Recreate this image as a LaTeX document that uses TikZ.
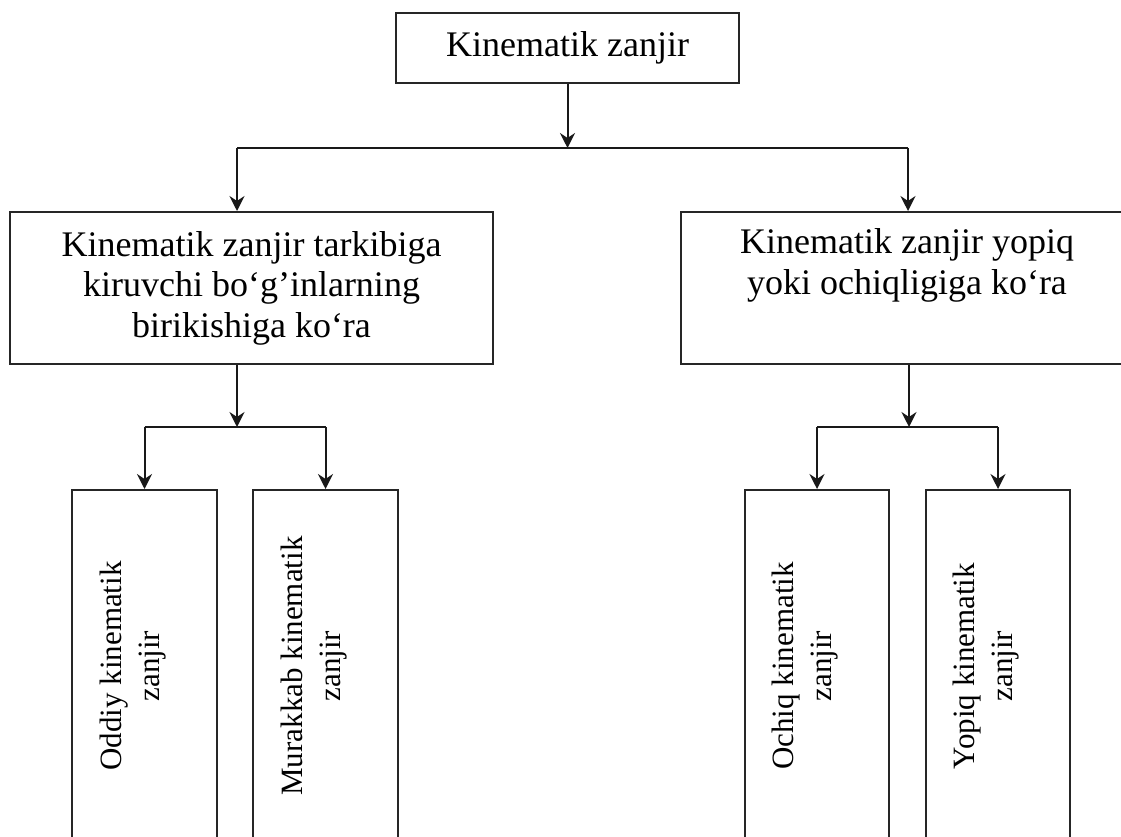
\documentclass[tikz,border=0pt]{standalone}
\usepackage{fontspec}
\setmainfont{Liberation Serif}
\usetikzlibrary{arrows.meta,calc}
\begin{document}
\begin{tikzpicture}[x=1pt,y=-1pt,
  box/.style={draw=black!85, line width=2pt, rectangle, inner sep=0pt},
  big/.style={font=\fontsize{36}{40.5}\selectfont, align=center},
  small/.style={font=\fontsize{31}{38}\selectfont, align=center, rotate=90, inner sep=0pt},
  conn/.style={line width=2pt, draw=black!90},
  arr/.style={conn, -{Stealth[length=15pt,width=15pt,inset=5pt]}}]
\useasboundingbox (0,0) rectangle (1121,837);
% boxes
\node[box, big, minimum width=343pt, minimum height=70pt] (top) at (567.5,48) {Kinematik zanjir};
\node[box, big, minimum width=483pt, minimum height=152pt] (ml) at (251.5,288)
  {Kinematik zanjir tarkibiga\\kiruvchi bo‘g’inlarning\\birikishiga ko‘ra};
\node[box, big, minimum width=452pt, minimum height=152pt] (mr) at (907,288)
  {Kinematik zanjir yopiq\\yoki ochiqligiga ko‘ra\\\strut};
\node[box, minimum width=145pt, minimum height=410pt] (b1) at (144.5,695) {};
\node[box, minimum width=145pt, minimum height=410pt] (b2) at (325.5,695) {};
\node[box, minimum width=144pt, minimum height=410pt] (b3) at (817,695) {};
\node[box, minimum width=144pt, minimum height=410pt] (b4) at (998,695) {};
% rotated labels
\node[small] (t1) at (133.5,666) {Oddiy kinematik\\zanjir};
\node[small] (t2) at (314.5,666) {Murakkab kinematik\\zanjir};
\node[small] (t3) at (805,666) {Ochiq kinematik\\zanjir};
\node[small] (t4) at (986,666) {Yopiq kinematik\\zanjir};
% junctions
\coordinate (j0) at (567.5,148);
\coordinate (j1l) at (237,148);
\coordinate (j1r) at (908,148);
\coordinate (j2) at (237,427);
\coordinate (j3) at (909,427);
% connectors
\draw[arr] (top.south) -- (j0);
\draw[conn] (j1l) -- (j1r);
\draw[arr] (j1l) -- (j1l |- ml.north);
\draw[arr] (j1r) -- (j1r |- mr.north);
\draw[arr] (j2 |- ml.south) -- (j2);
\draw[conn] (j2 -| b1.north) -- (j2 -| b2.north);
\draw[arr] (j2 -| b1.north) -- (b1.north);
\draw[arr] (j2 -| b2.north) -- (b2.north);
\draw[arr] (j3 |- mr.south) -- (j3);
\draw[conn] (j3 -| b3.north) -- (j3 -| b4.north);
\draw[arr] (j3 -| b3.north) -- (b3.north);
\draw[arr] (j3 -| b4.north) -- (b4.north);
\end{tikzpicture}
\end{document}
